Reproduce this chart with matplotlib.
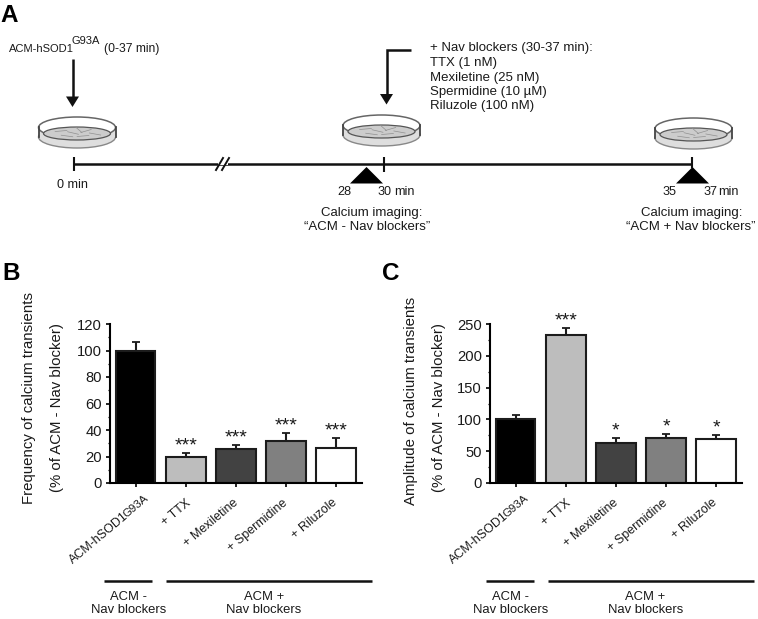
import matplotlib
matplotlib.use("Agg")
import matplotlib.pyplot as plt
from matplotlib.patches import Ellipse, Polygon
import numpy as np

plt.rcParams['font.family'] = ['Liberation Sans', 'DejaVu Sans']

W, H = 758, 619
TXT = '#1a1a1a'

categories = ['ACM-hSOD1', '+ TTX', '+ Mexiletine', '+ Spermidine', '+ Riluzole']
category_sup = 'G93A'
bar_colors = ['#000000', '#bdbdbd', '#424242', '#808080', '#ffffff']
freq_values = [100, 20, 26, 32, 26.5]
freq_errors = [6.5, 2.5, 2.5, 5.5, 7.5]
freq_stars = ['', '***', '***', '***', '***']
freq_yticks = [0, 20, 40, 60, 80, 100, 120]
amp_values = [100, 233, 63, 71, 69]
amp_errors = [6.5, 11, 7, 6, 7]
amp_stars = ['', '***', '*', '*', '*']
amp_yticks = [0, 50, 100, 150, 200, 250]
label_offsets_pt = [(-9, -19.5), (-0.5, -10), (-2, -10), (-3, -10), (-3.5, -10)]

fig = plt.figure(figsize=(W / 100, H / 100), dpi=100, facecolor='white')

ov = fig.add_axes([0, 0, 1, 1], zorder=5)
ov.set_xlim(0, W); ov.set_ylim(H, 0); ov.axis('off'); ov.patch.set_alpha(0)

FS = 9.4

def T(x, y, s, size=FS, ha='left', va='center', **kw):
    kw.setdefault('color', TXT)
    ov.text(x, y, s, fontsize=size, ha=ha, va=va, **kw)

def L(xs, ys, lw=1.8):
    ov.plot(xs, ys, color='#111111', lw=lw, solid_capstyle='butt', solid_joinstyle='miter')

def dish(cx, top):
    rx = 38.5
    ov.add_patch(Ellipse((cx, top + 20), 2 * rx, 22, fc='#dedede', ec='#888888', lw=1.0))
    ov.add_patch(Polygon([(cx - rx, top + 10), (cx + rx, top + 10), (cx + rx, top + 20), (cx - rx, top + 20)],
                         fc='#dedede', ec='none'))
    ov.plot([cx - rx, cx - rx], [top + 10, top + 20], color='#444444', lw=1.3)
    ov.plot([cx + rx, cx + rx], [top + 10, top + 20], color='#444444', lw=1.3)
    ov.add_patch(Ellipse((cx, top + 10.5), 2 * rx, 21, fc='white', ec='#666666', lw=1.1))
    ov.add_patch(Ellipse((cx, top + 16.5), 2 * rx - 10, 13, fc='#cccccc', ec='#555555', lw=0.9))
    for dx, dy, a in [(-16, 14, -10), (-4, 16, 25), (9, 14, -30), (18, 17, 20), (-10, 19, 15), (6, 19, -10), (2, 13, 60)]:
        t = np.deg2rad(a)
        ov.plot([cx + dx - 6 * np.cos(t), cx + dx + 6 * np.cos(t)],
                [top + dy - 6 * np.sin(t) * 0.5, top + dy + 6 * np.sin(t) * 0.5],
                color='#909090', lw=0.5)

def arrow_head(x, y):
    ov.add_patch(Polygon([(x - 6.5, y - 10.5), (x + 6.5, y - 10.5), (x, y)], fc='#111111', ec='none'))

def tri(x0, x1, y0, y1):
    ov.add_patch(Polygon([(x0, y1), (x1, y1), ((x0 + x1) / 2, y0)], fc='#000000', ec='none'))

for x, y, s in [(0, 16, 'A'), (2, 273, 'B'), (382, 273, 'C')]:
    T(x, y, s, size=17.5, fontweight='bold', color='black')

L([74, 692], [164, 164])
for x, y1 in [(74, 171), (384, 172), (692, 168)]:
    L([x, x], [157, y1], lw=1.5)
ov.add_patch(Polygon([(218, 165.2), (228, 165.2), (228, 162.8), (218, 162.8)], fc='white', ec='none', zorder=3))
ov.plot([216, 223], [170, 158], color='#111111', lw=1.4, zorder=4)
ov.plot([222, 229], [170, 158], color='#111111', lw=1.4, zorder=4)

for cx, top in [(77, 117), (381.5, 115), (693.5, 118)]:
    dish(cx, top)

tri(350, 383, 167, 183.5)
tri(676, 709, 167, 183.5)

L([72.5, 72.5], [59, 97])
arrow_head(72.5, 107)
T(9, 49, 'ACM-hSOD1', size=8.0)
T(72, 41, 'G93A', size=8.0)
T(104, 49, '(0-37 min)', size=8.7)

L([411, 386.5, 386.5], [50, 50, 95])
arrow_head(386.5, 104.5)
for y, s in [(48.5, '+ Nav blockers (30-37 min):'), (63, 'TTX (1 nM)'), (77.5, 'Mexiletine (25 nM)'),
             (92, 'Spermidine (10 µM)'), (106.5, 'Riluzole (100 nM)')]:
    T(430, y, s, size=9.55)

T(57, 185, '0 min', size=9.1)
T(337, 192, '28', size=9.1)
T(377.5, 192, '30', size=9.1)
T(394, 192, 'min', size=9.1)
T(662.5, 192, '35', size=9.1)
T(703, 192, '37', size=9.1)
T(718.5, 192, 'min', size=9.1)
T(372, 213, 'Calcium imaging:', ha='center', size=9.5)
T(367.5, 227, '“ACM - Nav blockers”', ha='center', size=9.5)
T(692, 213, 'Calcium imaging:', ha='center', size=9.5)
T(691, 227, '“ACM + Nav blockers”', ha='center', size=9.5)

def panel(left, values, errors, stars, yticks, ymax, minor, ylab1, ylab2, lab_x, lab2_x, lab_y, off):
    x_right = left + 252
    bottom, top = 483, 324
    ax = fig.add_axes([left / W, 1 - bottom / H, (x_right - left) / W, (bottom - top) / H])
    ax.patch.set_alpha(0)
    x = np.arange(len(values))
    ax.bar(x, values, width=0.79, color=bar_colors, edgecolor='#1c1c1c', lw=1.5)
    for xi, v, e in zip(x, values, errors):
        ax.errorbar(xi, v, yerr=[[0], [e]], color='#1c1c1c', capsize=3, lw=1.5, capthick=1.3, zorder=1)
    for xi, v, e, s in zip(x, values, errors, stars):
        if s:
            ax.annotate(s, (xi, v + e), xytext=(0, -1), textcoords='offset points',
                        ha='center', va='bottom', fontsize=14, color=TXT, linespacing=1)
    ax.set_xlim(-0.508, 4.512)
    ax.set_ylim(0, ymax)
    ax.set_yticks(yticks)
    ax.set_yticks(minor, minor=True)
    ax.set_xticks(x)
    ax.set_xticklabels([])
    ax.tick_params(axis='y', which='major', length=3.2, width=1.2, labelsize=10.6, pad=2.5, labelcolor=TXT)
    ax.tick_params(axis='y', which='minor', length=1.8, width=0.9)
    ax.tick_params(axis='x', length=3.2, width=1.2)
    for s in ['top', 'right']:
        ax.spines[s].set_visible(False)
    for s in ['left', 'bottom']:
        ax.spines[s].set_linewidth(1.5)
    for xi, s, (xt, yt) in zip(x, categories, label_offsets_pt):
        ax.annotate(s, (xi, 0), xytext=(xt, yt), textcoords='offset points', rotation=40,
                    rotation_mode='anchor', ha='right', va='top', fontsize=9.0, color=TXT,
                    annotation_clip=False)
        if s == categories[0]:
            ax.annotate(category_sup, (xi, 0), xytext=(6, -7.5), textcoords='offset points',
                        rotation=40, rotation_mode='anchor', ha='right', va='top', fontsize=8.2,
                        color=TXT, annotation_clip=False)
    T(lab_x, lab_y, ylab1, size=10.8, rotation=90, ha='center')
    T(lab2_x, 408, ylab2, size=10.8, rotation=90, ha='center')
    L([104 + off, 152 + off], [581, 581])
    L([166 + off, 372 + off], [581, 581])
    T(129 + off, 597, 'ACM -', ha='center')
    T(129 + off, 610, 'Nav blockers', ha='center')
    T(264 + off, 597, 'ACM +', ha='center')
    T(264 + off, 610, 'Nav blockers', ha='center')
    return ax

panel(110, freq_values, freq_errors, freq_stars, freq_yticks, 120,
      [10, 30, 50, 70, 90, 110], 'Frequency of calcium transients', '(% of ACM - Nav blocker)', 29, 57.5, 398, 0)
panel(490, amp_values, amp_errors, amp_stars, amp_yticks, 250,
      [25, 75, 125, 175, 225], 'Amplitude of calcium transients', '(% of ACM - Nav blocker)', 411, 439.5, 401, 381.5)

fig.savefig('out.png', dpi=100)
